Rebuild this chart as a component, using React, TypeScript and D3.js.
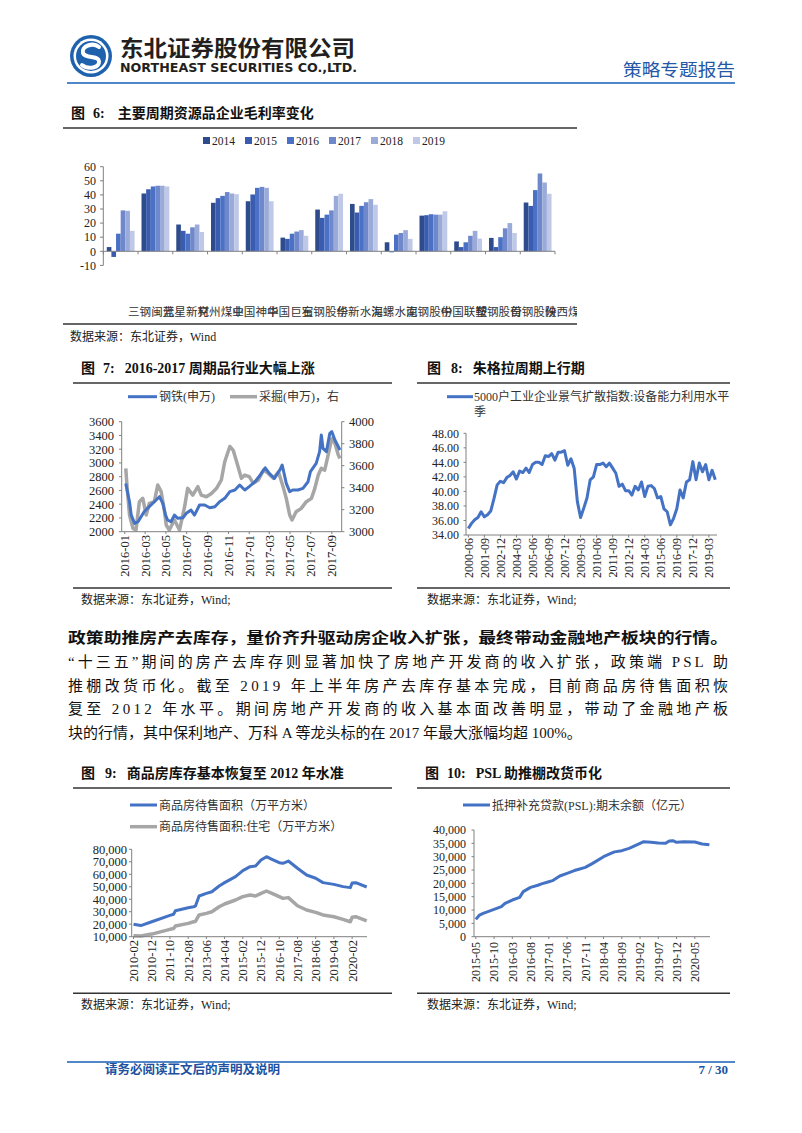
import React from 'react';
import * as d3 from 'd3';

const MIX = "'Liberation Serif','Noto Sans CJK SC',serif";
const SANS = "'Noto Sans CJK SC','Noto Sans',sans-serif";
const AXIS = '#808080';
const BLUE = '#4472C4';
const GRAY = '#A6A6A6';

// ---------- Figure 6 ----------
const fig6Years = ['2014', '2015', '2016', '2017', '2018', '2019'];
const fig6Cats = ['三钢闽光', '蓝星新材', '兖州煤业', '中国神华', '中国巨石', '宝钢股份', '华新水泥', '海螺水泥', '南钢股份', '中国联塑', '鞍钢股份', '首钢股份', '陕西煤业'];
const fig6Colors = ['#2E4C8C', '#3A5CB0', '#4A71C6', '#6F88CB', '#9AABD9', '#BFC9E7'];
const fig6Values: number[][] = [
  [3, 41, 19, 34.4, 35.5, 9.7, 29.6, 33.6, 6.4, 25.3, 7, 9.5, 34.6],
  [-4, 44, 14.5, 37.7, 40.3, 8.8, 23.7, 27.5, -0.7, 25.6, 3, 3, 32.2],
  [12.5, 46, 12.5, 39.3, 45, 12.5, 26, 32.2, 11.8, 26.3, 6.4, 10, 43.4],
  [29, 46.5, 17, 42, 45.7, 14, 29, 34.8, 13, 26, 11, 16.3, 55.2],
  [28.7, 46.5, 19, 41, 45, 15, 39.3, 37, 15, 26, 14.5, 20, 48.8],
  [14.5, 46, 13.7, 40.5, 35.5, 11, 40.8, 33, 8.8, 28.4, 9, 13, 40.8],
];
const fig6Ticks = [-10, 0, 10, 20, 30, 40, 50, 60];

// ---------- Figure 7 ----------
const fig7Steel: [string, number][] = [
  ['2016-01-04', 2700], ['2016-01-08', 2600], ['2016-01-15', 2436], ['2016-01-20', 2242], ['2016-01-30', 2121],
  ['2016-02-09', 2145], ['2016-02-27', 2290], ['2016-03-13', 2364], ['2016-03-28', 2436], ['2016-04-12', 2509],
  ['2016-04-22', 2412], ['2016-04-30', 2242], ['2016-05-06', 2170], ['2016-05-16', 2145], ['2016-05-26', 2242],
  ['2016-06-05', 2194], ['2016-06-20', 2203], ['2016-06-30', 2267], ['2016-07-14', 2315], ['2016-07-24', 2242],
  ['2016-08-08', 2388], ['2016-08-23', 2388], ['2016-09-07', 2349], ['2016-09-22', 2364], ['2016-10-06', 2436],
  ['2016-10-21', 2485], ['2016-11-05', 2582], ['2016-11-20', 2606], ['2016-12-04', 2679], ['2016-12-19', 2606],
  ['2017-01-01', 2655], ['2017-01-18', 2727], ['2017-02-02', 2824], ['2017-02-17', 2930], ['2017-03-01', 2848],
  ['2017-03-16', 2776], ['2017-04-01', 2897], ['2017-04-08', 2970], ['2017-04-20', 2703], ['2017-04-30', 2582],
  ['2017-05-09', 2606], ['2017-05-24', 2606], ['2017-06-08', 2630], ['2017-06-23', 2727], ['2017-06-30', 2873],
  ['2017-07-17', 2994], ['2017-07-27', 3164], ['2017-08-01', 3406], ['2017-08-06', 3212], ['2017-08-16', 3164],
  ['2017-08-26', 3430], ['2017-09-01', 3455], ['2017-09-10', 3333], ['2017-09-25', 3188],
];
const fig7Mining: [string, number][] = [
  ['2016-01-04', 3576], ['2016-01-08', 3400], ['2016-01-15', 3152], ['2016-01-25', 3030], ['2016-02-03', 3015],
  ['2016-02-13', 3273], ['2016-02-23', 3303], ['2016-03-04', 3152], ['2016-03-13', 3258], ['2016-03-28', 3273],
  ['2016-04-07', 3424], ['2016-04-17', 3364], ['2016-04-27', 3182], ['2016-05-02', 3061], ['2016-05-11', 3015],
  ['2016-05-26', 3106], ['2016-06-10', 3015], ['2016-06-25', 3227], ['2016-07-04', 3394], ['2016-07-19', 3333],
  ['2016-08-03', 3409], ['2016-08-13', 3333], ['2016-08-28', 3318], ['2016-09-12', 3348], ['2016-09-27', 3394],
  ['2016-10-11', 3470], ['2016-10-21', 3636], ['2016-11-05', 3775], ['2016-11-15', 3740], ['2016-11-25', 3636],
  ['2016-12-09', 3485], ['2016-12-19', 3515], ['2017-01-01', 3500], ['2017-01-13', 3440], ['2017-01-28', 3470],
  ['2017-02-12', 3560], ['2017-02-26', 3530], ['2017-03-13', 3485], ['2017-03-28', 3545], ['2017-04-12', 3394],
  ['2017-04-20', 3303], ['2017-04-30', 3152], ['2017-05-07', 3106], ['2017-05-19', 3182], ['2017-06-03', 3212],
  ['2017-06-18', 3273], ['2017-07-03', 3303], ['2017-07-13', 3394], ['2017-07-23', 3515], ['2017-08-01', 3576],
  ['2017-08-11', 3560], ['2017-08-21', 3697], ['2017-09-01', 3848], ['2017-09-10', 3803], ['2017-09-20', 3697],
  ['2017-09-25', 3667],
];
const fig7LeftTicks = [2000, 2200, 2400, 2600, 2800, 3000, 3200, 3400, 3600];
const fig7RightTicks = [3000, 3200, 3400, 3600, 3800, 4000];
const fig7XTicks = ['2016-01', '2016-03', '2016-05', '2016-07', '2016-09', '2016-11', '2017-01', '2017-03', '2017-05', '2017-07', '2017-09'];

// ---------- Figure 8 ----------
const fig8Start = '2000-06';
const fig8Values = [
  34.9, 35.6, 36.1, 36.4, 37.2, 36.5, 36.8, 37.3, 39.0, 40.9,
  41.4, 41.2, 41.9, 42.2, 42.7, 41.7, 42.8, 42.6, 43.2, 42.6,
  43.7, 44.0, 44.0, 43.7, 44.9, 44.8, 45.2, 44.3, 45.4, 45.4,
  45.6, 43.6, 44.5, 43.2, 38.6, 36.4, 37.7, 39.1, 41.6, 42.0,
  43.7, 43.7, 43.9, 43.4, 43.9, 43.2, 42.5, 40.7, 41.0, 40.1,
  40.1, 39.5, 40.7, 40.2, 41.3, 39.3, 40.7, 40.8, 40.4, 39.1,
  39.3, 37.6, 37.2, 35.4, 36.3, 37.6, 40.2, 39.1, 41.3, 41.6,
  44.1, 41.6, 43.9, 42.7, 43.7, 41.6, 42.9, 41.6,
];
const fig8YTicks = [34, 36, 38, 40, 42, 44, 46, 48];
const fig8XTicks = ['2000-06', '2001-09', '2002-12', '2004-03', '2005-06', '2006-09', '2007-12', '2009-03', '2010-06', '2011-09', '2012-12', '2014-03', '2015-06', '2016-09', '2017-12', '2019-03'];

// ---------- Figure 9 ----------
const fig9Total: [string, number][] = [
  ['2010-02', 19900], ['2010-06', 18900], ['2010-12', 22000], ['2011-10', 27100], ['2011-12', 28000], ['2012-01', 30800],
  ['2012-08', 33200], ['2012-11', 34000], ['2012-12', 34500], ['2013-02', 42600], ['2013-06', 44700], ['2013-09', 46000],
  ['2014-01', 50600], ['2014-04', 53300], ['2014-10', 58100], ['2015-02', 62900], ['2015-06', 66100], ['2015-09', 66600],
  ['2015-12', 71400], ['2016-03', 74100], ['2016-06', 72000], ['2016-10', 69300], ['2016-12', 68800], ['2017-03', 70600],
  ['2017-08', 64800], ['2018-01', 59400], ['2018-06', 56800], ['2018-10', 53300], ['2019-04', 51900], ['2019-09', 50100],
  ['2020-01', 49300], ['2020-02', 53000], ['2020-04', 53300], ['2020-10', 49800],
];
const fig9Housing: [string, number][] = [
  ['2010-02', 10800], ['2010-06', 10500], ['2010-12', 12100], ['2011-10', 15900], ['2011-12', 16500], ['2012-01', 18600],
  ['2012-08', 20700], ['2012-11', 22000], ['2012-12', 22200], ['2013-02', 27400], ['2013-06', 28700], ['2013-09', 30000],
  ['2014-01', 34000], ['2014-04', 36200], ['2014-10', 39400], ['2015-02', 42100], ['2015-06', 43400], ['2015-09', 42600],
  ['2015-12', 44700], ['2016-03', 46600], ['2016-06', 44700], ['2016-10', 42100], ['2016-12', 40700], ['2017-03', 41300],
  ['2017-08', 34800], ['2018-01', 31400], ['2018-06', 29500], ['2018-10', 27400], ['2019-04', 26000], ['2019-09', 23900],
  ['2020-01', 22000], ['2020-02', 25500], ['2020-04', 26000], ['2020-10', 22600],
];
const fig9YTicks = [10000, 20000, 30000, 40000, 50000, 60000, 70000, 80000];
const fig9XTicks = ['2010-02', '2010-12', '2011-10', '2012-08', '2013-06', '2014-04', '2015-02', '2015-12', '2016-10', '2017-08', '2018-06', '2019-04', '2020-02'];

// ---------- Figure 10 ----------
const fig10PSL: [string, number][] = [
  ['2015-05', 6500], ['2015-06', 8100], ['2015-07', 8750], ['2015-10', 10250], ['2015-12', 11250], ['2016-01', 12500],
  ['2016-03', 13750], ['2016-05', 14750], ['2016-06', 16900], ['2016-08', 18500], ['2016-10', 19300], ['2016-11', 19800],
  ['2017-01', 20600], ['2017-02', 21000], ['2017-04', 22750], ['2017-06', 23750], ['2017-08', 24800], ['2017-09', 25200],
  ['2017-11', 26000], ['2018-01', 27500], ['2018-04', 30000], ['2018-06', 31200], ['2018-07', 31800], ['2018-09', 32250],
  ['2018-11', 33100], ['2019-02', 35000], ['2019-03', 35600], ['2019-05', 35400], ['2019-07', 35100], ['2019-09', 35000],
  ['2019-10', 35900], ['2019-11', 36000], ['2019-12', 35400], ['2020-02', 35600], ['2020-05', 35500], ['2020-07', 34750],
  ['2020-09', 34500],
];
const fig10YTicks = [0, 5000, 10000, 15000, 20000, 25000, 30000, 35000, 40000];
const fig10XTicks = ['2015-05', '2015-10', '2016-03', '2016-08', '2017-01', '2017-06', '2017-11', '2018-04', '2018-09', '2019-02', '2019-07', '2019-12', '2020-05'];

const paragraph = [
  '“十三五”期间的房产去库存则显著加快了房地产开发商的收入扩张，政策端 PSL 助',
  '推棚改货币化。截至 2019 年上半年房产去库存基本完成，目前商品房待售面积恢',
  '复至 2012 年水平。期间房地产开发商的收入基本面改善明显，带动了金融地产板',
  '块的行情，其中保利地产、万科 A 等龙头标的在 2017 年最大涨幅均超 100%。',
];
const paragraphBold = '政策助推房产去库存，量价齐升驱动房企收入扩张，最终带动金融地产板块的行情。';

const monthIndex = (ym: string, base: string) => {
  const [y, m] = ym.split('-').map(Number);
  const [by, bm] = base.split('-').map(Number);
  return (y - by) * 12 + (m - bm);
};
const fmtComma = d3.format(',');

const Title = ({ x, y, lx, x2, num, text, g1 = 9, g2 = 11 }:
  { x: number; y: number; lx: number; x2: number; num: string; text: string; g1?: number; g2?: number }) => (
  <g>
    <text x={x} y={y} fontFamily={MIX} fontWeight={700} fontSize={14} fill="#111">
      图<tspan dx={g1}>{num}</tspan><tspan dx={g2}>{text}</tspan>
    </text>
    <line x1={lx} x2={x2} y1={y + 10} y2={y + 10} stroke="#333" strokeWidth={1.5} />
  </g>
);
const Source = ({ x, y, lx, x2 }: { x: number; y: number; lx: number; x2: number }) => (
  <g>
    <line x1={lx} x2={x2} y1={y} y2={y} stroke="#333" strokeWidth={1.5} />
    <text x={x} y={y + 16} fontFamily={MIX} fontSize={12} fill="#222">数据来源：东北证券，Wind;</text>
  </g>
);

function Fig6() {
  const x0 = d3.scaleBand<string>().domain(fig6Cats).range([103.3, 555]).paddingInner(0.2).paddingOuter(0.1);
  const x1 = d3.scaleBand<string>().domain(fig6Years).range([0, x0.bandwidth()]);
  const y = d3.scaleLinear().domain([-10, 60]).range([265.4, 166.7]);
  const step = x0.step();
  return (
    <g>
      <Title x={71} y={118} lx={63} x2={577} num="6:" text="主要周期资源品企业毛利率变化" g1={8} g2={13} />
      {fig6Years.map((yr, i) => (
        <g key={yr}>
          <rect x={203 + i * 42} y={137} width={7} height={7} fill={fig6Colors[i]} />
          <text x={212 + i * 42} y={145} fontFamily={MIX} fontSize={11.5} fill="#222">{yr}</text>
        </g>
      ))}
      {fig6Years.map((yr, yi) =>
        fig6Cats.map((c, ci) => {
          const v = fig6Values[yi][ci];
          return (
            <rect key={yr + c} x={(x0(c) as number) + (x1(yr) as number)} width={x1.bandwidth()}
              y={Math.min(y(v), y(0))} height={Math.abs(y(v) - y(0))} fill={fig6Colors[yi]} />
          );
        })
      )}
      <line x1={103.3} x2={103.3} y1={y(60)} y2={y(-10)} stroke={AXIS} />
      {fig6Ticks.map(t => (
        <g key={t}>
          <line x1={100} x2={103.3} y1={y(t)} y2={y(t)} stroke={AXIS} />
          <text x={96} y={y(t)} dy="0.35em" textAnchor="end" fontFamily={MIX} fontSize={12} fill="#222">{t}</text>
        </g>
      ))}
      <line x1={103.3} x2={555} y1={y(0)} y2={y(0)} stroke={AXIS} />
      {d3.range(fig6Cats.length + 1).map(i => (
        <line key={i} x1={103.3 + i * step} x2={103.3 + i * step} y1={y(0)} y2={y(0) + 3} stroke={AXIS} />
      ))}
      <clipPath id="c6"><rect x={60} y={290} width={517} height={40} /></clipPath>
      <g clipPath="url(#c6)">
        {fig6Cats.map(c => (
          <text key={c} x={(x0(c) as number) + x0.bandwidth() / 2 + 30.5} y={316} textAnchor="middle"
            fontFamily={SANS} fontSize={11.58} fill="#333">{c}</text>
        ))}
      </g>
      <line x1={63} x2={577} y1={324} y2={324} stroke="#333" strokeWidth={1.5} />
      <text x={70} y={341} fontFamily={MIX} fontSize={12} fill="#222">数据来源：东北证券，Wind</text>
    </g>
  );
}

function Fig7() {
  const parse = d3.timeParse('%Y-%m-%d');
  const x = d3.scaleTime().domain([new Date(2015, 11, 23), new Date(2017, 8, 30)]).range([121.7, 341.7]);
  const yl = d3.scaleLinear().domain([2000, 3600]).range([531.7, 421.7]);
  const yr = d3.scaleLinear().domain([3000, 4000]).range([531.7, 421.7]);
  const lineL = d3.line<[string, number]>().x(d => x(parse(d[0]) as Date)).y(d => yl(d[1]));
  const lineR = d3.line<[string, number]>().x(d => x(parse(d[0]) as Date)).y(d => yr(d[1]));
  return (
    <g>
      <Title x={81} y={373} lx={73} x2={392} num="7:" text="2016-2017 周期品行业大幅上涨" g1={8} g2={10} />
      <line x1={128} x2={157} y1={396.7} y2={396.7} stroke={BLUE} strokeWidth={3} />
      <text x={159} y={401} fontFamily={MIX} fontSize={12} fill="#333">钢铁(申万)</text>
      <line x1={230} x2={257} y1={396.7} y2={396.7} stroke={GRAY} strokeWidth={3.5} />
      <text x={259} y={401} fontFamily={MIX} fontSize={12} fill="#333">采掘(申万)，右</text>
      <path d={lineR(fig7Mining) || ''} fill="none" stroke={GRAY} strokeWidth={3.5} strokeLinejoin="round" />
      <path d={lineL(fig7Steel) || ''} fill="none" stroke={BLUE} strokeWidth={3} strokeLinejoin="round" />
      <line x1={121.7} x2={121.7} y1={421.7} y2={531.7} stroke={AXIS} />
      <line x1={341.7} x2={341.7} y1={421.7} y2={531.7} stroke={AXIS} />
      <line x1={121.7} x2={341.7} y1={531.7} y2={531.7} stroke={AXIS} />
      {fig7LeftTicks.map(t => (
        <g key={t}>
          <line x1={119} x2={121.7} y1={yl(t)} y2={yl(t)} stroke={AXIS} />
          <text x={114} y={yl(t)} dy="0.35em" textAnchor="end" fontFamily={MIX} fontSize={12.5} fill="#222">{t}</text>
        </g>
      ))}
      {fig7RightTicks.map(t => (
        <g key={t}>
          <line x1={341.7} x2={344.4} y1={yr(t)} y2={yr(t)} stroke={AXIS} />
          <text x={349} y={yr(t)} dy="0.35em" fontFamily={MIX} fontSize={12.5} fill="#222">{t}</text>
        </g>
      ))}
      {fig7XTicks.map(t => {
        const xx = x(parse(t + '-01') as Date);
        return (
          <g key={t}>
            <line x1={xx} x2={xx} y1={531.7} y2={534} stroke={AXIS} />
            <text transform={`translate(${xx},${535}) rotate(-90)`} dy="0.35em" textAnchor="end" fontFamily={MIX} fontSize={12.5} fill="#222">{t}</text>
          </g>
        );
      })}
      <Source x={81} y={588} lx={73} x2={392} />
    </g>
  );
}

function Fig8() {
  const x = d3.scaleLinear().domain([0, fig8Values.length - 1]).range([468.3, 715.3]);
  const y = d3.scaleLinear().domain([34, 48]).range([535, 433.3]);
  const line = d3.line<number>().x((_, i) => x(i)).y(d => y(d));
  return (
    <g>
      <Title x={427} y={373} lx={417} x2={730} num="8:" text="朱格拉周期上行期" g1={10} g2={10} />
      <line x1={447} x2={473} y1={396.7} y2={396.7} stroke={BLUE} strokeWidth={3} />
      <text x={474} y={401} fontFamily={MIX} fontSize={12} fill="#333">5000户工业企业景气扩散指数:设备能力利用水平</text>
      <text x={474} y={416} fontFamily={MIX} fontSize={12} fill="#333">季</text>
      <path d={line(fig8Values) || ''} fill="none" stroke={BLUE} strokeWidth={3} strokeLinejoin="round" />
      <line x1={466} x2={466} y1={433.3} y2={535} stroke={AXIS} />
      <line x1={466} x2={717} y1={535} y2={535} stroke={AXIS} />
      {fig8YTicks.map(t => (
        <g key={t}>
          <line x1={463.5} x2={466} y1={y(t)} y2={y(t)} stroke={AXIS} />
          <text x={459} y={y(t)} dy="0.35em" textAnchor="end" fontFamily={MIX} fontSize={12} fill="#222">{t.toFixed(2)}</text>
        </g>
      ))}
      {fig8XTicks.map(t => {
        const q = monthIndex(t, fig8Start) / 3;
        const xx = x(q);
        return (
          <g key={t}>
            <line x1={xx} x2={xx} y1={535} y2={537.5} stroke={AXIS} />
            <text transform={`translate(${xx},${538}) rotate(-90)`} dy="0.35em" textAnchor="end" fontFamily={MIX} fontSize={12} fill="#222">{t}</text>
          </g>
        );
      })}
      <Source x={427} y={588} lx={417} x2={730} />
    </g>
  );
}

function Fig9() {
  const base = '2010-02';
  const x = d3.scaleLinear().domain([-1, 128]).range([131.7, 366.7]);
  const y = d3.scaleLinear().domain([10000, 80000]).range([936.7, 849.3]);
  const line = d3.line<[string, number]>().x(d => x(monthIndex(d[0], base))).y(d => y(d[1]));
  return (
    <g>
      <Title x={81} y={778} lx={73} x2={392} num="9:" text="商品房库存基本恢复至 2012 年水准" g1={10} g2={10} />
      <line x1={130} x2={157} y1={805} y2={805} stroke={BLUE} strokeWidth={3} />
      <text x={159} y={809.5} fontFamily={MIX} fontSize={12} fill="#333">商品房待售面积（万平方米）</text>
      <line x1={130} x2={157} y1={826.7} y2={826.7} stroke={GRAY} strokeWidth={3.5} />
      <text x={159} y={831} fontFamily={MIX} fontSize={12} fill="#333">商品房待售面积:住宅（万平方米）</text>
      <path d={line(fig9Housing) || ''} fill="none" stroke={GRAY} strokeWidth={3.5} strokeLinejoin="round" />
      <path d={line(fig9Total) || ''} fill="none" stroke={BLUE} strokeWidth={3} strokeLinejoin="round" />
      <line x1={131.7} x2={131.7} y1={849.3} y2={936.7} stroke={AXIS} />
      <line x1={131.7} x2={367} y1={936.7} y2={936.7} stroke={AXIS} />
      {fig9YTicks.map(t => (
        <g key={t}>
          <line x1={129} x2={131.7} y1={y(t)} y2={y(t)} stroke={AXIS} />
          <text x={127} y={y(t)} dy="0.35em" textAnchor="end" fontFamily={MIX} fontSize={12.5} fill="#222">{fmtComma(t)}</text>
        </g>
      ))}
      {fig9XTicks.map(t => {
        const xx = x(monthIndex(t, base));
        return (
          <g key={t}>
            <line x1={xx} x2={xx} y1={936.7} y2={939} stroke={AXIS} />
            <text transform={`translate(${xx},${940}) rotate(-90)`} dy="0.35em" textAnchor="end" fontFamily={MIX} fontSize={12.5} fill="#222">{t}</text>
          </g>
        );
      })}
      <Source x={81} y={993.3} lx={73} x2={392} />
    </g>
  );
}

function Fig10() {
  const base = '2015-05';
  const x = d3.scaleLinear().domain([-0.5, 64]).range([474, 709.4]);
  const y = d3.scaleLinear().domain([0, 40000]).range([936.7, 830]);
  const line = d3.line<[string, number]>().x(d => x(monthIndex(d[0], base))).y(d => y(d[1]));
  return (
    <g>
      <Title x={425} y={778} lx={417} x2={730} num="10:" text="PSL 助推棚改货币化" g1={8} g2={10} />
      <line x1={463} x2={490} y1={805} y2={805} stroke={BLUE} strokeWidth={3} />
      <text x={492} y={809.5} fontFamily={MIX} fontSize={12} fill="#333">抵押补充贷款(PSL):期末余额（亿元）</text>
      <path d={line(fig10PSL) || ''} fill="none" stroke={BLUE} strokeWidth={3} strokeLinejoin="round" />
      <line x1={474} x2={474} y1={830} y2={936.7} stroke={AXIS} />
      <line x1={474} x2={710} y1={936.7} y2={936.7} stroke={AXIS} />
      {fig10YTicks.map(t => (
        <g key={t}>
          <line x1={471.5} x2={474} y1={y(t)} y2={y(t)} stroke={AXIS} />
          <text x={466} y={y(t)} dy="0.35em" textAnchor="end" fontFamily={MIX} fontSize={12} fill="#222">{fmtComma(t)}</text>
        </g>
      ))}
      {fig10XTicks.map(t => {
        const xx = x(monthIndex(t, base));
        return (
          <g key={t}>
            <line x1={xx} x2={xx} y1={936.7} y2={939} stroke={AXIS} />
            <text transform={`translate(${xx},${942}) rotate(-90)`} dy="0.35em" textAnchor="end" fontFamily={MIX} fontSize={12} fill="#222">{t}</text>
          </g>
        );
      })}
      <Source x={427} y={993.3} lx={417} x2={730} />
    </g>
  );
}

function Header() {
  return (
    <g>
      <g transform="translate(91,56)">
        <circle r={21} fill="#1E62AE" />
        <circle r={17.5} fill="#fff" />
        <circle r={15} fill="#1E62AE" />
        <path d="M 8 -9 C 2 -14 -10 -10 -8 -3 C -6 3 7 -1 8 5 C 9 12 -3 14 -9 9" fill="none" stroke="#fff" strokeWidth={4} strokeLinecap="round" />
      </g>
      <text x={120} y={56} fontFamily={SANS} fontWeight={700} fontSize={22} fill="#231F20" textLength={235} lengthAdjust="spacingAndGlyphs">东北证券股份有限公司</text>
      <text x={120} y={72} fontFamily="'DejaVu Sans','Noto Sans',sans-serif" fontWeight={700} fontSize={11.5} fill="#231F20" textLength={237} lengthAdjust="spacingAndGlyphs">NORTHEAST SECURITIES CO.,LTD.</text>
      <text x={623} y={76} fontFamily={SANS} fontSize={17.5} fill="#2458A6" textLength={112} lengthAdjust="spacingAndGlyphs">策略专题报告</text>
      <line x1={67} x2={735} y1={83} y2={83} stroke="#4F87C9" strokeWidth={2} />
    </g>
  );
}

function Body() {
  const lh = 23.5;
  return (
    <g>
      <text x={68} y={643} fontFamily={SANS} fontWeight={700} fontSize={15} fill="#111" textLength={660} lengthAdjust="spacingAndGlyphs">{paragraphBold}</text>
      {paragraph.map((t, i) => (
        <text key={i} x={68} y={667 + i * lh} fontFamily={MIX} fontSize={15} fill="#111"
          {...(i < paragraph.length - 1 ? { textLength: 660, lengthAdjust: 'spacing' } : {})}>{t}</text>
      ))}
    </g>
  );
}

function Footer() {
  return (
    <g>
      <line x1={67} x2={735} y1={1062} y2={1062} stroke="#4F87C9" strokeWidth={2} />
      <text x={105} y={1074} fontFamily={SANS} fontWeight={700} fontSize={12.5} fill="#2050A0">请务必阅读正文后的声明及说明</text>
      <text x={728} y={1074} textAnchor="end" fontFamily={MIX} fontWeight={700} fontSize={13} fill="#2050A0">7 / 30</text>
    </g>
  );
}

export default function App() {
  return (
    <div style={{ position: 'absolute', left: 0, top: 0, width: 802, height: 1133, background: '#fff' }}>
      <svg width={802} height={1133} viewBox="0 0 802 1133" style={{ display: 'block' }}>
        <rect width={802} height={1133} fill="#fff" />
        <Header />
        <Fig6 />
        <Fig7 />
        <Fig8 />
        <Body />
        <Fig9 />
        <Fig10 />
        <Footer />
      </svg>
    </div>
  );
}
